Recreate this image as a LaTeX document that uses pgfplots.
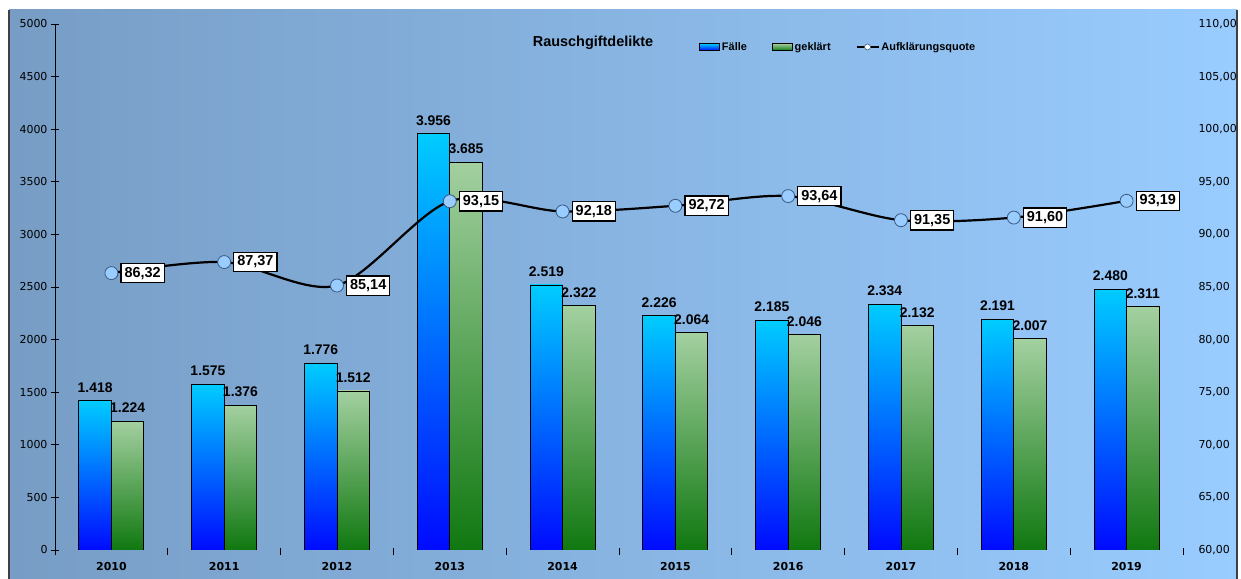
\documentclass[border=0pt]{standalone}
\usepackage{fontspec}
\setmainfont{Liberation Sans}
\newfontfamily\dejavu{DejaVu Sans}
\usepackage{pgfplots}
\pgfplotsset{compat=1.18}

\definecolor{bgL}{RGB}{119,157,197}
\definecolor{bgR}{RGB}{153,204,255}
\definecolor{fTop}{RGB}{0,204,255}
\definecolor{fBot}{RGB}{0,10,255}
\definecolor{gTop}{RGB}{163,208,160}
\definecolor{gBot}{RGB}{16,120,16}
\definecolor{mkFill}{RGB}{153,204,255}
\definecolor{mkDraw}{RGB}{60,90,130}

\pgfplotsset{
  fbar/.style={draw=black, line width=0.8bp, top color=fTop, bottom color=fBot, bar shift=-16.25bp, forget plot},
  gbar/.style={draw=black, line width=0.8bp, top color=gTop, bottom color=gBot, bar shift=16.25bp, forget plot},
}

\begin{document}
\begin{tikzpicture}
\useasboundingbox (0bp,0bp) rectangle (1241bp,579bp);
\fill[white] (0bp,0bp) rectangle (1241bp,579bp);
\shade[left color=bgL, right color=bgR] (9bp,0bp) rectangle (1237bp,569bp);
\draw[black!75, line width=1.2bp] (9bp,0bp) -- (9bp,569bp);
\draw[black!75, line width=1.2bp] (1237bp,0bp) -- (1237bp,569bp);

\begin{axis}[
  at={(55bp,29bp)}, anchor=south west,
  scale only axis, width=1128bp, height=526bp,
  xmin=-0.5, xmax=9.5, ymin=0, ymax=5000,
  ybar=0pt, bar width=32.5bp,
  axis x line*=bottom, axis y line*=left,
  x axis line style={draw=none},
  y axis line style={black, line width=0.8bp, shorten <=-5bp},
  xtick={0,1,2,3,4,5,6,7,8,9},
  xticklabels={2010,2011,2012,2013,2014,2015,2016,2017,2018,2019},
  minor xtick={-0.5,0.5,1.5,2.5,3.5,4.5,5.5,6.5,7.5,8.5,9.5},
  every major x tick/.append style={draw=none},
  every minor x tick/.append style={yshift=-1.5bp},
  ytick={0,500,1000,1500,2000,2500,3000,3500,4000,4500,5000},
  yticklabels={0,500,1000,1500,2000,2500,3000,3500,4000,4500,5000},
  scaled y ticks=false,
  tick align=center, major tick length=8bp, minor tick length=7bp,
  tick style={black, line width=0.8bp},
  yticklabel style={font=\dejavu\fontsize{11}{12}\selectfont},
  xticklabel style={font=\dejavu\bfseries\fontsize{11}{12}\selectfont, yshift=-5bp},
  nodes near coords,
  every node near coord/.append style={font=\bfseries\fontsize{14}{14}\selectfont, text=black,
    inner sep=0pt, yshift=8bp, /pgf/number format/1000 sep={.}, /pgf/number format/assume math mode=true},
]
% geklärt
\addplot[gbar] coordinates {(0,1224)};
\addplot[gbar] coordinates {(1,1376)};
\addplot[gbar] coordinates {(2,1512)};
\addplot[gbar] coordinates {(3,3685)};
\addplot[gbar] coordinates {(4,2322)};
\addplot[gbar] coordinates {(5,2064)};
\addplot[gbar] coordinates {(6,2046)};
\addplot[gbar] coordinates {(7,2132)};
\addplot[gbar] coordinates {(8,2007)};
\addplot[gbar] coordinates {(9,2311)};
% Fälle
\addplot[fbar] coordinates {(0,1418)};
\addplot[fbar] coordinates {(1,1575)};
\addplot[fbar] coordinates {(2,1776)};
\addplot[fbar] coordinates {(3,3956)};
\addplot[fbar] coordinates {(4,2519)};
\addplot[fbar] coordinates {(5,2226)};
\addplot[fbar] coordinates {(6,2185)};
\addplot[fbar] coordinates {(7,2334)};
\addplot[fbar] coordinates {(8,2191)};
\addplot[fbar] coordinates {(9,2480)};
\end{axis}

\begin{axis}[
  at={(55bp,29bp)}, anchor=south west,
  scale only axis, width=1128bp, height=526bp,
  xmin=-0.5, xmax=9.5, ymin=60, ymax=110,
  hide x axis,
  axis y line*=right,
  y axis line style={draw=none},
  ytick={60,65,70,75,80,85,90,95,100,105,110},
  yticklabels={{60,00},{65,00},{70,00},{75,00},{80,00},{85,00},{90,00},{95,00},{100,00},{105,00},{110,00}},
  ytick style={draw=none}, major tick length=0pt,
  yticklabel style={anchor=west, xshift=12bp, font=\dejavu\fontsize{11}{12}\selectfont},
  title={Rauschgiftdelikte},
  title style={at={(0.477,0.953)}, anchor=center, font=\bfseries\fontsize{14.5}{15}\selectfont},
  legend columns=-1,
  legend style={at={(0.5709,0.9563)}, anchor=west, draw=none, fill=none, inner sep=0pt,
    font=\bfseries\fontsize{11}{12}\selectfont,
    /tikz/every even column/.append style={column sep=23bp}},
  legend cell align=left,
]
\addlegendimage{legend image code/.code={\shade[draw=black, line width=0.8bp, top color=fTop, bottom color=fBot] (0bp,-3.5bp) rectangle (20bp,3.5bp);}}
\addlegendentry{Fälle}
\addlegendimage{legend image code/.code={\shade[draw=black, line width=0.8bp, top color=gTop, bottom color=gBot] (0bp,-3.5bp) rectangle (20bp,3.5bp);}}
\addlegendentry{geklärt}
\addlegendimage{legend image code/.code={\draw[black, line width=1.8bp] (0bp,0bp) -- (22bp,0bp); \draw[fill=white, draw=mkDraw, line width=0.6bp] (11bp,0bp) circle (3bp);}}
\addlegendentry{Aufklärungsquote}
\addplot[black, line width=2.2bp, smooth, forget plot,
  mark=*, mark size=6.5bp, mark options={fill=mkFill, draw=mkDraw, line width=0.8bp},
  nodes near coords,
  every node near coord/.append style={anchor=west, xshift=9bp, fill=white, draw=black, line width=1.3bp,
    inner sep=3.5bp, font=\bfseries\fontsize{14.5}{14.5}\selectfont, text=black,
    /pgf/number format/.cd, fixed, fixed zerofill, precision=2, use comma, assume math mode=true}]
  coordinates {(0,86.32) (1,87.37) (2,85.14) (3,93.15) (4,92.18) (5,92.72) (6,93.64) (7,91.35) (8,91.60) (9,93.19)};
\end{axis}
\end{tikzpicture}
\end{document}
